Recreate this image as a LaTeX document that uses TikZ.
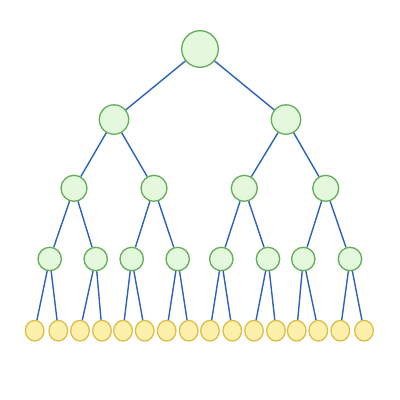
\documentclass[tikz,border=0pt]{standalone}
\usetikzlibrary{shapes.geometric}
\definecolor{gfill}{HTML}{E3F8DC}
\definecolor{gdraw}{HTML}{64AC58}
\definecolor{yfill}{HTML}{FDF0AA}
\definecolor{ydraw}{HTML}{DDBD48}
\definecolor{edge}{HTML}{2A62BC}
\begin{document}
\begin{tikzpicture}[x=1pt,y=-1pt,
  inner/.style={circle,draw=gdraw,fill=gfill,line width=1.3pt,inner sep=0pt},
  leaf/.style={ellipse,draw=ydraw,fill=yfill,line width=1.3pt,inner sep=0pt,minimum width=18.6pt,minimum height=20.6pt},
  conn/.style={draw=edge,line width=1.4pt}]
\useasboundingbox (0,0) rectangle (400,400);
\node[inner,minimum size=36.6pt] (r) at (200,49) {};
\node[inner,minimum size=29.4pt] (a) at (114,119.5) {};
\node[inner,minimum size=29.4pt] (b) at (286,119.5) {};
\node[inner,minimum size=26pt] (aa) at (74,188.3) {};
\node[inner,minimum size=26pt] (ab) at (154,188.3) {};
\node[inner,minimum size=26pt] (ba) at (244.3,188.3) {};
\node[inner,minimum size=26pt] (bb) at (325.7,188.3) {};
\node[inner,minimum size=23.4pt] (c1) at (49.7,259) {};
\node[inner,minimum size=23.4pt] (c2) at (95.7,259) {};
\node[inner,minimum size=23.4pt] (c3) at (131.7,259) {};
\node[inner,minimum size=23.4pt] (c4) at (177.7,259) {};
\node[inner,minimum size=23.4pt] (c5) at (221.3,259) {};
\node[inner,minimum size=23.4pt] (c6) at (268,259) {};
\node[inner,minimum size=23.4pt] (c7) at (303.3,259) {};
\node[inner,minimum size=23.4pt] (c8) at (350,259) {};
\foreach \i/\x in {1/34.7,2/58.3,3/80,4/102,5/123,6/144.7,7/166.7,8/188.7,9/210,10/232.3,11/254,12/276,13/296.7,14/318.3,15/340.3,16/364}
  \node[leaf] (l\i) at (\x,330.7) {};
\path[conn] (r)--(a) (r)--(b) (a)--(aa) (a)--(ab) (b)--(ba) (b)--(bb)
  (aa)--(c1) (aa)--(c2) (ab)--(c3) (ab)--(c4) (ba)--(c5) (ba)--(c6) (bb)--(c7) (bb)--(c8)
  (c1)--(l1) (c1)--(l2) (c2)--(l3) (c2)--(l4) (c3)--(l5) (c3)--(l6) (c4)--(l7) (c4)--(l8)
  (c5)--(l9) (c5)--(l10) (c6)--(l11) (c6)--(l12) (c7)--(l13) (c7)--(l14) (c8)--(l15) (c8)--(l16);
\end{tikzpicture}
\end{document}
